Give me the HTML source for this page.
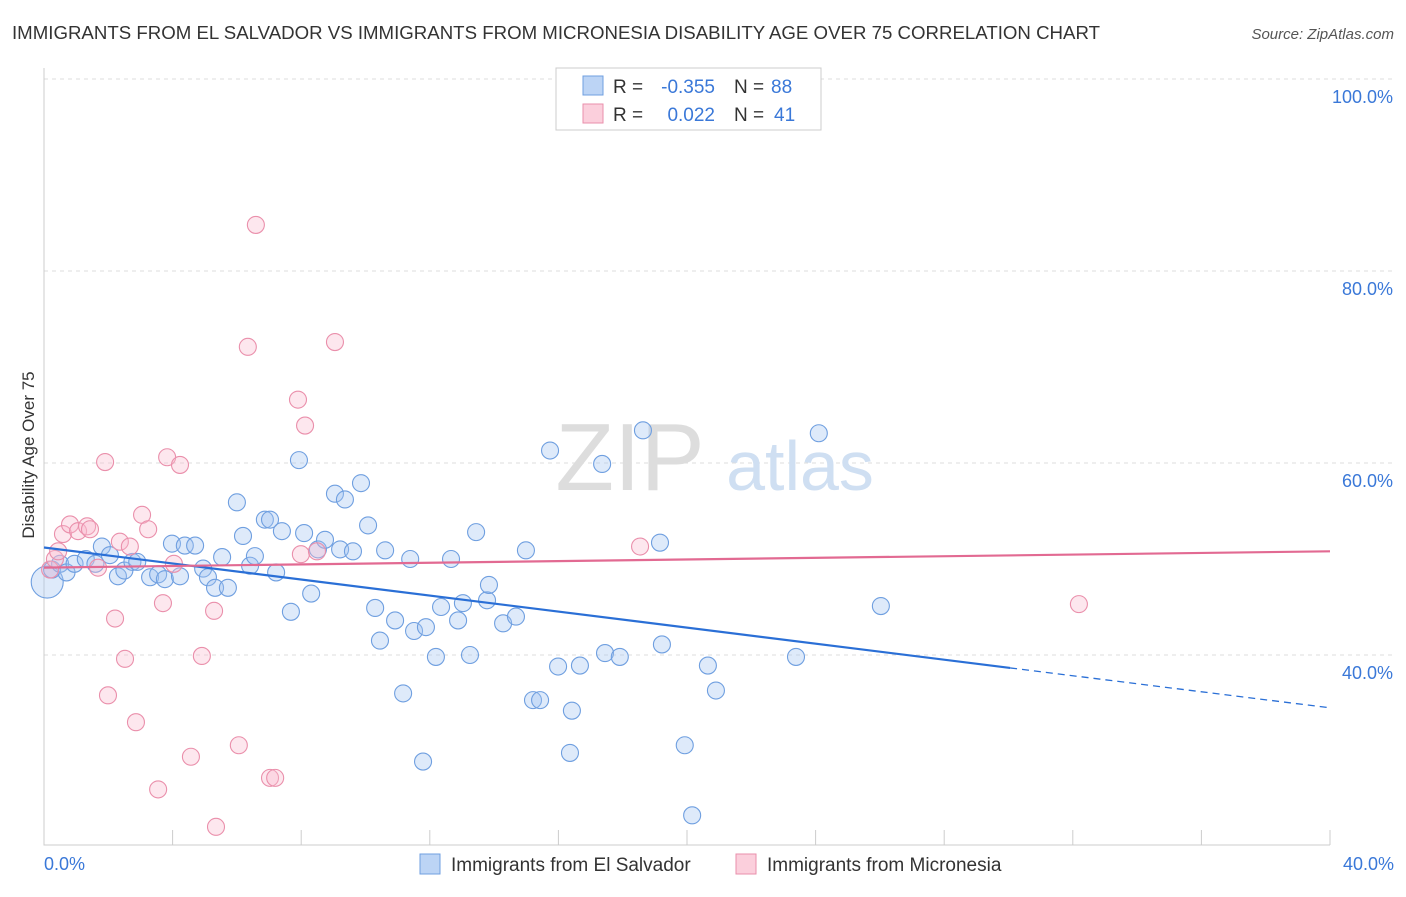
<!DOCTYPE html>
<html><head><meta charset="utf-8"><style>
body{margin:0;background:#fff;font-family:"Liberation Sans",sans-serif}
svg text{font-family:"Liberation Sans",sans-serif}
</style></head><body>
<svg width="1406" height="892" viewBox="0 0 1406 892" xmlns="http://www.w3.org/2000/svg">
<text x="12" y="39" font-size="18" fill="#333" textLength="1088" lengthAdjust="spacingAndGlyphs">IMMIGRANTS FROM EL SALVADOR VS IMMIGRANTS FROM MICRONESIA DISABILITY AGE OVER 75 CORRELATION CHART</text>
<text x="1394" y="39" font-size="15" fill="#555" font-style="italic" text-anchor="end">Source: ZipAtlas.com</text>
<g id="grid"></g>
<text x="630" y="490" font-size="96" fill="#ddd" font-family="Liberation Serif" text-anchor="middle">ZIP</text>
<text x="800" y="490" font-size="70" fill="#cfdff2" text-anchor="middle">atlas</text>
<text transform="translate(34,455) rotate(-90)" font-size="17" fill="#333" text-anchor="middle">Disability Age Over 75</text>
<g id="pts"></g>
<g id="lines"></g>
<g>
<rect x="556" y="68" width="265" height="62" fill="#fff" stroke="#ccc"/>
<rect x="583" y="76" width="20" height="19" fill="#bcd4f5" stroke="#6f9fe0"/>
<rect x="583" y="104" width="20" height="19" fill="#fbcfdc" stroke="#ea8fab"/>
<text x="613" y="93" font-size="19" fill="#333">R =</text>
<text x="715" y="93" font-size="19" fill="#3a78d8" text-anchor="end">-0.355</text>
<text x="734" y="93" font-size="19" fill="#333">N =</text>
<text x="771" y="93" font-size="19" fill="#3a78d8">88</text>
<text x="613" y="121" font-size="19" fill="#333">R =</text>
<text x="715" y="121" font-size="19" fill="#3a78d8" text-anchor="end">0.022</text>
<text x="734" y="121" font-size="19" fill="#333">N =</text>
<text x="774" y="121" font-size="19" fill="#3a78d8">41</text>
</g>
<g>
<rect x="420" y="854" width="20" height="20" fill="#bcd4f5" stroke="#6f9fe0"/>
<text x="451" y="871" font-size="19" fill="#333">Immigrants from El Salvador</text>
<rect x="736" y="854" width="20" height="20" fill="#fbcfdc" stroke="#ea8fab"/>
<text x="767" y="871" font-size="19" fill="#333">Immigrants from Micronesia</text>
</g>
<text x="44" y="870" font-size="18" fill="#3a78d8">0.0%</text>
<text x="1394" y="870" font-size="18" fill="#3a78d8" text-anchor="end">40.0%</text>
</svg>
<script>
const yTicks=[100,80,60,40];
const blueX=[0.1,0.25,0.5,0.7,0.95,1.3,1.6,1.8,2.05,2.3,2.5,2.75,2.9,3.3,3.55,3.76,3.98,4.23,4.38,4.7,4.95,5.1,5.32,5.54,5.72,6.0,6.19,6.41,6.56,6.87,7.03,7.22,7.4,7.68,7.93,8.09,8.31,8.52,8.74,9.05,9.21,9.36,9.61,9.86,10.08,10.3,10.45,10.61,10.92,11.17,11.39,11.51,11.79,11.88,12.19,12.35,12.66,12.88,13.03,13.25,13.44,13.78,13.84,14.28,14.68,14.99,15.21,15.43,15.74,15.99,16.36,16.42,16.67,17.36,17.45,17.91,18.63,19.16,19.22,19.93,20.16,20.65,20.9,23.39,24.1,26.03];
const blueY=[47.6,48.9,49.5,48.6,49.5,50,49.5,51.3,50.4,48.2,48.8,49.7,49.7,48.1,48.4,47.9,51.6,48.2,51.4,51.4,49,48.1,47,50.2,47,55.9,52.4,49.3,50.3,54.1,54.1,48.6,52.9,44.5,60.3,52.7,46.4,51,52,56.8,51,56.2,50.8,57.9,53.5,44.9,41.5,50.9,43.6,36,50,42.5,28.9,42.9,39.8,45,50,43.6,45.4,40,52.8,45.7,47.3,43.3,44,50.9,35.3,35.3,61.3,38.8,29.8,34.2,38.9,59.9,40.2,39.8,63.4,51.7,41.1,30.6,23.3,38.9,36.3,39.8,63.1,45.1];
const pinkX=[0.19,0.34,0.44,0.59,0.81,1.06,1.34,1.43,1.68,1.9,1.99,2.21,2.36,2.52,2.67,2.86,3.05,3.24,3.55,3.7,3.83,4.04,4.23,4.57,4.91,5.29,5.35,6.06,6.34,6.59,7.03,7.19,7.9,7.99,8.12,8.49,9.05,18.54,32.19];
const pinkY=[48.9,50,50.8,52.6,53.6,52.9,53.4,53.1,49.1,60.1,35.8,43.8,51.8,39.6,51.3,33,54.6,53.1,26,45.4,60.6,49.5,59.8,29.4,39.9,44.6,22.1,30.6,72.1,84.8,27.2,27.2,66.6,50.5,63.9,50.8,72.6,51.3,45.3];
const blueTrend=[51.2,34.5];const blueSolidEnd=30.05;const blueTrendEnd=40;
const pinkTrend=[49.1,50.8];
const ns="http://www.w3.org/2000/svg";
const X=v=>44+v*32.15, Y=v=>1039-v*9.6;
const grid=document.getElementById('grid');
for(const t of yTicks){
 const l=document.createElementNS(ns,'line');
 l.setAttribute('x1',44);l.setAttribute('x2',1394);l.setAttribute('y1',Y(t));l.setAttribute('y2',Y(t));
 l.setAttribute('stroke','#ddd');l.setAttribute('stroke-dasharray','4,4');
 
 
 grid.appendChild(l);
 const tx=document.createElementNS(ns,'text');
 tx.setAttribute('x',1393);tx.setAttribute('y',Y(t)+24);tx.setAttribute('text-anchor','end');
 tx.setAttribute('font-size','18');tx.setAttribute('fill','#3a78d8');tx.textContent=t.toFixed(1)+'%';
 
 
 grid.appendChild(tx);
}
const ax=document.createElementNS(ns,'path');
ax.setAttribute('d','M44 68V845H1330');ax.setAttribute('stroke','#ccc');ax.setAttribute('fill','none');


grid.appendChild(ax);
for(let i=0;i<=10;i++){
 const l=document.createElementNS(ns,'line');
 l.setAttribute('x1',X(i*4));l.setAttribute('x2',X(i*4));l.setAttribute('y1',830);l.setAttribute('y2',845);
 l.setAttribute('stroke','#ccc');
 
 
 grid.appendChild(l);
}
const pts=document.getElementById('pts');
function dots(xs,ys,fill,stroke,name){
 xs.forEach((x,i)=>{const c=document.createElementNS(ns,'circle');
 c.setAttribute('cx',X(x));c.setAttribute('cy',Y(ys[i]));c.setAttribute('r',(name==='blue-point'&&i===0)?16:8.5);
 c.setAttribute('fill',fill);c.setAttribute('stroke',stroke);c.setAttribute('stroke-width','1.1');
 
 
 pts.appendChild(c);});
}
dots(blueX,blueY,'rgba(160,195,240,0.35)','#6f9fe0','blue-point');
dots(pinkX,pinkY,'rgba(248,185,205,0.35)','#ea8fab','pink-point');
const lines=document.getElementById('lines');
function seg(x1,y1,x2,y2,col,dash,name){const l=document.createElementNS(ns,'line');
 l.setAttribute('x1',X(x1));l.setAttribute('y1',Y(y1));l.setAttribute('x2',X(x2));l.setAttribute('y2',Y(y2));
 l.setAttribute('stroke',col);l.setAttribute('stroke-width',dash?1.3:2.2);if(dash)l.setAttribute('stroke-dasharray','7,5');
 
 
 lines.appendChild(l);}
const bAt=x=>blueTrend[0]+(blueTrend[1]-blueTrend[0])*x/blueTrendEnd;
seg(0,bAt(0),blueSolidEnd,bAt(blueSolidEnd),'#2a6fd6',false,'blue-trend-line');
seg(blueSolidEnd,bAt(blueSolidEnd),blueTrendEnd,bAt(blueTrendEnd),'#2a6fd6',true,'blue-trend-dashed');
seg(0,pinkTrend[0],40,pinkTrend[1],'#e26a92',false,'pink-trend-line');
</script>
</body></html>
